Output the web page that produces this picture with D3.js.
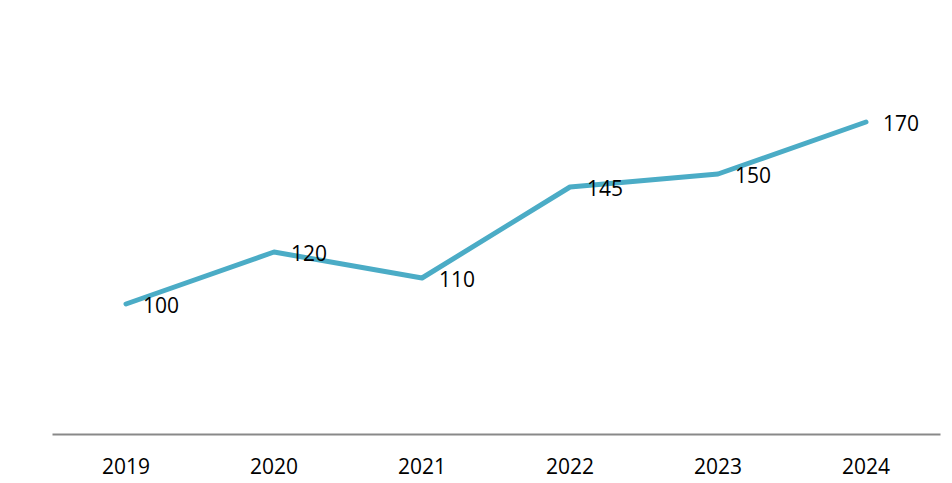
<!DOCTYPE html>
<html>
<head>
<meta charset="utf-8">
<script src="https://cdn.jsdelivr.net/npm/d3@7"></script>
<style>
  body { margin: 0; background: #fff; }
  text { font-family: "Open Sans", "Liberation Sans", sans-serif; fill: #000; }
</style>
</head>
<body>
<svg id="chart" width="952" height="483"></svg>
<script>
var years = ["2019", "2020", "2021", "2022", "2023", "2024"];
var values = [100, 120, 110, 145, 150, 170];

var svg = d3.select("#chart");

// plot area
var plotLeft = 52, plotRight = 940, plotTop = 44, plotBottom = 434;

var x = d3.scaleBand().domain(years).range([plotLeft, plotRight]);
var y = d3.scaleLinear().domain([50, 200]).range([plotBottom, plotTop]);

var data = years.map(function(d, i) { return { year: d, value: values[i] }; });

// x axis
var xAxis = svg.append("g")
    .attr("transform", "translate(0," + plotBottom + ")")
    .call(d3.axisBottom(x).tickSize(0).tickPadding(25));
xAxis.select(".domain").attr("stroke", "#898989").attr("stroke-width", 2);
xAxis.selectAll("text").style("font-size", "21px");

// line
var line = d3.line()
    .x(function(d) { return x(d.year) + x.bandwidth() / 2; })
    .y(function(d) { return y(d.value); });

svg.append("path")
    .datum(data)
    .attr("fill", "none")
    .attr("stroke", "#4BACC6")
    .attr("stroke-width", 5)
    .attr("stroke-linejoin", "round")
    .attr("stroke-linecap", "round")
    .attr("d", line);

// value labels
svg.selectAll(".lbl")
    .data(data)
    .enter().append("text")
    .attr("class", "lbl")
    .attr("x", function(d) { return x(d.year) + x.bandwidth() / 2 + 17; })
    .attr("y", function(d) { return y(d.value) + 9; })
    .style("font-size", "21px")
    .text(function(d) { return d.value; });
</script>
</body>
</html>
